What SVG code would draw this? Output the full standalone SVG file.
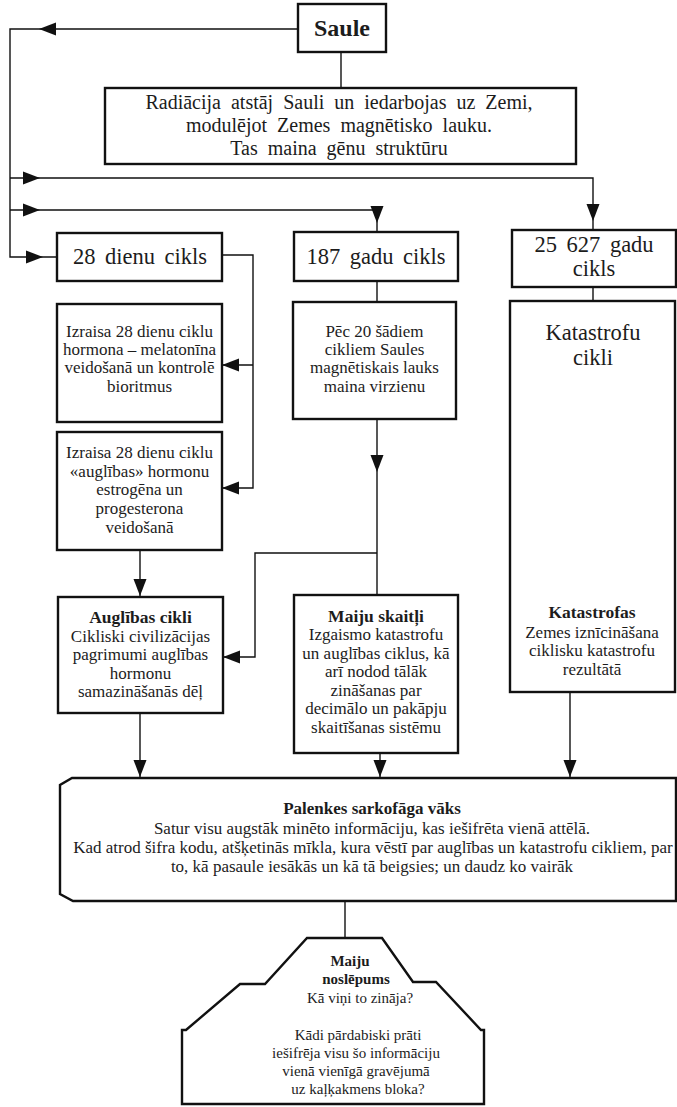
<svg xmlns="http://www.w3.org/2000/svg" width="677" height="1107" viewBox="0 0 677 1107" font-family="'Liberation Serif', 'DejaVu Serif', serif">
<defs>
<path id="aR" d="M0,0 L-17,-6.5 L-17,6.5 Z"/>
<path id="aL" d="M0,0 L17,-6.5 L17,6.5 Z"/>
<path id="aD" d="M0,0 L-6.5,-17 L6.5,-17 Z"/>
</defs>
<style>
.box{fill:#fff;stroke:#111;stroke-width:2.4}
.ln{fill:none;stroke:#111;stroke-width:1.4}
.ah{fill:#111}
text{font-family:"Liberation Serif","DejaVu Serif",serif;fill:#1c1c1c;text-anchor:middle}
.big{font-size:20px;word-spacing:5px}
.mid{font-size:22.5px;word-spacing:4px}
.sm{font-size:17px}
.ttl{font-size:17.5px;font-weight:bold}
.pal{font-size:17px}
.b{font-weight:bold}
.py{font-size:15px}
</style>
<rect width="677" height="1107" fill="#fff"/>
<g id="connectors">
<path class="ln" d="M298,29 H10 V257 H57"/>
<path class="ln" d="M10,178 H593 V230"/>
<path class="ln" d="M10,210 H377 V232"/>
<path class="ln" d="M341,52 V88"/>
<path class="ln" d="M222,255 H253 V488 H222 M253,365 H222"/>
<path class="ln" d="M377,281 V302"/>
<path class="ln" d="M593,287 V301"/>
<path class="ln" d="M377,419 V595"/>
<path class="ln" d="M377,553 H255 V657 H223"/>
<path class="ln" d="M140,550 V597"/>
<path class="ln" d="M140,713 V778"/>
<path class="ln" d="M380,753 V778"/>
<path class="ln" d="M570,692 V778"/>
<path class="ln" d="M345,901 V938"/>
<use href="#aL" class="ah" x="39" y="29"/>
<use href="#aR" class="ah" x="40" y="178"/>
<use href="#aR" class="ah" x="40" y="210"/>
<use href="#aR" class="ah" x="43" y="257"/>
<use href="#aD" class="ah" x="377" y="223"/>
<use href="#aD" class="ah" x="593" y="221"/>
<use href="#aL" class="ah" x="222" y="365"/>
<use href="#aL" class="ah" x="222" y="488"/>
<use href="#aL" class="ah" x="223" y="657"/>
<use href="#aD" class="ah" x="377" y="472"/>
<use href="#aD" class="ah" x="140" y="596"/>
<use href="#aD" class="ah" x="140" y="777"/>
<use href="#aD" class="ah" x="380" y="777"/>
<use href="#aD" class="ah" x="570" y="777"/>
</g>
<g id="saule">
<rect class="box" x="298" y="4" width="88" height="48"/>
<text x="342" y="36" class="b" style="font-size:24px">Saule</text>
</g>
<g id="radiacija">
<rect class="box" x="105" y="88" width="471" height="76"/>
<text class="big" x="339" y="109">Radiācija atstāj Sauli un iedarbojas uz Zemi,</text>
<text class="big" x="339" y="132">modulējot Zemes magnētisko lauku.</text>
<text class="big" x="339" y="155">Tas maina gēnu struktūru</text>
</g>
<g id="cikls28">
<rect class="box" x="57" y="233" width="165" height="48"/>
<text class="mid" x="140" y="264">28 dienu cikls</text>
</g>
<g id="cikls187">
<rect class="box" x="294" y="232" width="164" height="49"/>
<text class="mid" x="376" y="264">187 gadu cikls</text>
</g>
<g id="cikls25627">
<rect class="box" x="512" y="230" width="164" height="57"/>
<text class="mid" x="594" y="252">25 627 gadu</text>
<text class="mid" x="594" y="276">cikls</text>
</g>
<g id="melatonins">
<rect class="box" x="57" y="304" width="165" height="118"/>
<text class="sm" x="139.5" y="337">Izraisa 28 dienu ciklu</text>
<text class="sm" x="139.5" y="355">hormona – melatonīna</text>
<text class="sm" x="139.5" y="373">veidošanā un kontrolē</text>
<text class="sm" x="139.5" y="392">bioritmus</text>
</g>
<g id="estrogens">
<rect class="box" x="57" y="432" width="165" height="118"/>
<text class="sm" x="139.5" y="458">Izraisa 28 dienu ciklu</text>
<text class="sm" x="139.5" y="477">«auglības» hormonu</text>
<text class="sm" x="139.5" y="495">estrogēna un</text>
<text class="sm" x="139.5" y="514">progesterona</text>
<text class="sm" x="139.5" y="533">veidošanā</text>
</g>
<g id="pec20">
<rect class="box" x="293" y="302" width="163" height="117"/>
<text class="sm" x="374.5" y="337">Pēc 20 šādiem</text>
<text class="sm" x="374.5" y="355">cikliem Saules</text>
<text class="sm" x="374.5" y="373">magnētiskais lauks</text>
<text class="sm" x="374.5" y="392">maina virzienu</text>
</g>
<g id="katastrofu-cikli">
<rect class="box" x="510" y="301" width="165" height="391"/>
<text class="mid" x="593" y="340">Katastrofu</text>
<text class="mid" x="593" y="365">cikli</text>
<text class="ttl" x="592" y="618">Katastrofas</text>
<text class="sm" x="592" y="638">Zemes iznīcināšana</text>
<text class="sm" x="592" y="656">ciklisku katastrofu</text>
<text class="sm" x="592" y="675">rezultātā</text>
</g>
<g id="auglibas">
<rect class="box" x="58" y="597" width="165" height="116"/>
<text class="ttl" x="140.5" y="623">Auglības cikli</text>
<text class="sm" x="140.5" y="642">Cikliski civilizācijas</text>
<text class="sm" x="140.5" y="660">pagrimumi auglības</text>
<text class="sm" x="140.5" y="679">hormonu</text>
<text class="sm" x="140.5" y="697">samazināšanās dēļ</text>
</g>
<g id="maiju-skaitli">
<rect class="box" x="294" y="595" width="164" height="158"/>
<text class="ttl" x="376" y="622">Maiju skaitļi</text>
<text class="sm" x="376" y="640">Izgaismo katastrofu</text>
<text class="sm" x="376" y="659">un auglības ciklus, kā</text>
<text class="sm" x="376" y="677">arī nodod tālāk</text>
<text class="sm" x="376" y="696">zināšanas par</text>
<text class="sm" x="376" y="714">decimālo un pakāpju</text>
<text class="sm" x="376" y="733">skaitīšanas sistēmu</text>
</g>
<g id="palenke">
<path class="box" d="M72,778 H676 V901 H73 L60,894 V785 Z"/>
<text class="pal b" x="372" y="814">Palenkes sarkofāga vāks</text>
<text class="pal" x="372" y="834">Satur visu augstāk minēto informāciju, kas iešifrēta vienā attēlā.</text>
<text class="pal" x="373" y="853">Kad atrod šifra kodu, atšķetinās mīkla, kura vēstī par auglības un katastrofu cikliem, par</text>
<text class="pal" x="372" y="872">to, kā pasaule iesākās un kā tā beigsies; un daudz ko vairāk</text>
</g>
<g id="noslepums">
<path class="box" d="M307,938 H382 L413,982 H436 L481,1030 H484 V1104 H182 V1030 H186 L240,984 H265 Z"/>
<text class="py b" x="350" y="966">Maiju</text>
<text class="py b" x="356" y="984">noslēpums</text>
<text class="py" x="360" y="1003">Kā viņi to zināja?</text>
<text class="py" x="358" y="1040">Kādi pārdabiski prāti</text>
<text class="py" x="356" y="1058">iešifrēja visu šo informāciju</text>
<text class="py" x="356" y="1076">vienā vienīgā gravējumā</text>
<text class="py" x="358" y="1094">uz kaļķakmens bloka?</text>
</g>
</svg>
